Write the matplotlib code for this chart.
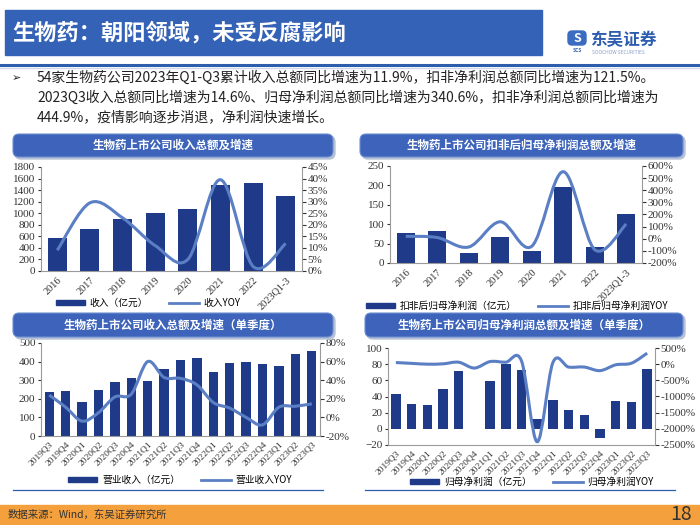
import matplotlib.pyplot as plt
from matplotlib.patches import FancyBboxPatch, Rectangle, PathPatch, Patch
from matplotlib.path import Path
from matplotlib.lines import Line2D
from matplotlib.ticker import FuncFormatter, MultipleLocator

plt.rcParams['font.family'] = ['Noto Sans CJK SC', 'DejaVu Sans']

# ---- data ----
years = ['2016', '2017', '2018', '2019', '2020', '2021', '2022', '2023Q1-3']
rev_year = [570, 730, 900, 1000, 1070, 1490, 1530, 1290]            # 亿元
rev_year_yoy = [9, 29.5, 23, 11, 5, 39.5, 2, 11.9]                   # %
np_year = [78, 83, 27, 68, 30, 195, 40, 125]                         # 亿元
np_year_yoy = [20, 10, -68, 140, -62, 553, -90, 121.5]               # %

quarters = ['2019Q3', '2019Q4', '2020Q1', '2020Q2', '2020Q3', '2020Q4',
            '2021Q1', '2021Q2', '2021Q3', '2021Q4', '2022Q1', '2022Q2',
            '2022Q3', '2022Q4', '2023Q1', '2023Q2', '2023Q3']
rev_q = [235, 240, 185, 248, 288, 310, 298, 358, 408, 418, 345, 395, 400, 388, 375, 442, 458]
rev_q_yoy = [24, 11, -4, 5, 22, 25, 60, 43, 42, 35, 16, 10, 0, -8, 11, 12, 14.6]
np_q = [43, 31, 30, 49, 72, 0, 59, 80, 73, 12, 36, 23, 17, -11, 34, 33, 74]
np_q_yoy = [50, 25, 0, 10, 60, -120, 80, 60, 100, -2400, 50, -90, -90, -200, -20, 30, 340.6]

bullets = [
    '54家生物药公司2023年Q1-Q3累计收入总额同比增速为11.9%，扣非净利润总额同比增速为121.5%。',
    '2023Q3收入总额同比增速为14.6%、归母净利润总额同比增速为340.6%，扣非净利润总额同比增速为',
    '444.9%，疫情影响逐步消退，净利润快速增长。',
]

W, H = 700, 525
BAR = '#1f3a88'
LINE = '#5b7fc4'
HEAD = '#3462b6'
TICKFONT = ['Liberation Serif', 'DejaVu Serif']

fig = plt.figure(figsize=(7, 5.25), dpi=100)

# background layer in pixel coordinates
bg = fig.add_axes([0, 0, 1, 1], zorder=-5)
bg.set_xlim(0, W)
bg.set_ylim(H, 0)
bg.axis('off')

# foreground layer for the panel headers
fg = fig.add_axes([0, 0, 1, 1], zorder=10)
fg.set_xlim(0, W)
fg.set_ylim(H, 0)
fg.axis('off')
fg.patch.set_visible(False)

# slide title bar
bg.add_patch(Rectangle((5, 10), 537, 45, color=HEAD))
bg.text(12, 33, '生物药：朝阳领域，未受反腐影响', color='white', fontsize=16,
        fontweight='bold', va='center')
bg.plot([0, W], [65, 65], color='#2e5dae', lw=2.2)
bg.plot([0, W], [67.5, 67.5], color='#cfd8e8', lw=1)

# logo
bg.add_patch(FancyBboxPatch((568, 31), 18, 14, boxstyle='round,pad=0,rounding_size=4',
                            color='#3a6cc0'))
bg.text(577, 38, 'S', color='white', fontsize=9, fontweight='bold', style='italic',
        ha='center', va='center')
bg.text(577, 50, 'SCS', color='#2e5dae', fontsize=3.5, ha='center', va='center', fontweight='bold')
bg.text(590, 40, '东吴证券', color='#2e5dae', fontsize=12, fontweight='bold', va='center')
bg.text(592, 52, 'SOOCHOW SECURITIES', color='#8aa0c8', fontsize=3.5, va='center')

# bullet text
bg.text(12, 78, '➢', fontsize=8, va='center', color='#222', family=['DejaVu Sans'])
for i, s in enumerate(bullets):
    bg.text(37, 78 + i * 19.5, s, fontsize=10, va='center', color='#222')

# footer
bg.add_patch(Rectangle((0, 505), W, 20, color='#f4a03c'))
bg.text(8, 515, '数据来源：Wind，东吴证券研究所', fontsize=7.5, va='center', color='#333')
bg.text(692, 514, '18', fontsize=14, va='center', ha='right', color='#333')

# separator lines under the lower panels
bg.plot([13, 323], [490, 490], color='#2e5dae', lw=0.9)
bg.plot([365, 675], [490, 490], color='#2e5dae', lw=0.9)


def header(x0, x1, y0, y1, title):
    fg.add_patch(FancyBboxPatch((x0 + 2, y0 + 2), x1 - x0, y1 - y0,
                                boxstyle='round,pad=0,rounding_size=6', color='#b8c2d6'))
    fg.add_patch(FancyBboxPatch((x0, y0), x1 - x0, y1 - y0,
                                boxstyle='round,pad=0,rounding_size=6',
                                facecolor='#3d64ba', edgecolor='#6f8fd0', lw=0.8))
    fg.text((x0 + x1) / 2, (y0 + y1) / 2, title, color='white', fontsize=8.3,
            fontweight='bold', ha='center', va='center')


def smooth_line(ax, y, color):
    # Excel-style smoothed line through the data points
    n = len(y)
    x = list(range(n))
    verts = [(x[0], y[0])]
    codes = [Path.MOVETO]
    for i in range(n - 1):
        xa, ya = (x[i - 1], y[i - 1]) if i > 0 else (x[i], y[i])
        xb, yb = (x[i + 2], y[i + 2]) if i + 2 < n else (x[i + 1], y[i + 1])
        c1 = (x[i] + (x[i + 1] - xa) / 6, y[i] + (y[i + 1] - ya) / 6)
        c2 = (x[i + 1] - (xb - x[i]) / 6, y[i + 1] - (yb - y[i]) / 6)
        verts += [c1, c2, (x[i + 1], y[i + 1])]
        codes += [Path.CURVE4] * 3
    ax.add_patch(PathPatch(Path(verts, codes), fill=False, edgecolor=color, lw=2.2))


def panel(box, cats, bars, yoy, ylim, ystep, y2lim, y2step, width, label_size):
    l, t, r, b = box
    ax = fig.add_axes([l / W, 1 - b / H, (r - l) / W, (b - t) / H])
    ax.bar(range(len(cats)), bars, width=width, color=BAR, zorder=2)
    ax.set_xlim(-0.5, len(cats) - 0.5)
    ax.set_ylim(*ylim)
    ax.yaxis.set_major_locator(MultipleLocator(ystep))
    ax.set_xticks(range(len(cats)))
    ax.set_xticklabels(cats, rotation=45, ha='right', rotation_mode='anchor',
                       fontsize=label_size, family=TICKFONT, color='#333')
    ax.tick_params(axis='x', length=0, pad=3)
    ax.tick_params(axis='y', length=2, labelsize=8, colors='#333', pad=2)
    for lab in ax.get_yticklabels():
        lab.set_family(TICKFONT)
    ax.spines['top'].set_visible(False)
    ax.spines['right'].set_visible(False)
    for s in ('left', 'bottom'):
        ax.spines[s].set_color('#9a9a9a')
        ax.spines[s].set_linewidth(0.8)
    ax.patch.set_visible(False)

    ax2 = ax.twinx()
    smooth_line(ax2, yoy, LINE)
    ax2.set_ylim(*y2lim)
    ax2.yaxis.set_major_locator(MultipleLocator(y2step))
    ax2.yaxis.set_major_formatter(FuncFormatter(lambda v, p: f'{v:.0f}%'))
    ax2.tick_params(axis='y', length=3, labelsize=8, colors='#333', pad=1)
    for lab in ax2.get_yticklabels():
        lab.set_family(TICKFONT)
    for s in ('top', 'left', 'bottom'):
        ax2.spines[s].set_visible(False)
    ax2.spines['right'].set_color('#9a9a9a')
    ax2.spines['right'].set_linewidth(0.8)
    return ax, ax2


def legend(cx, cy, bar_label, line_label):
    handles = [Patch(color=BAR), Line2D([], [], color=LINE, lw=2)]
    fig.legend(handles, [bar_label, line_label], loc='center', ncol=2, frameon=False,
               bbox_to_anchor=(cx / W, 1 - cy / H), fontsize=7, handlelength=3,
               handleheight=0.5, columnspacing=2.2, handletextpad=0.5)


# top-left: yearly revenue
panel((41, 167, 302, 271), years, rev_year, rev_year_yoy,
      (0, 1800), 200, (0, 45), 5, 0.58, 7.5)
header(13, 333, 134, 157, '生物药上市公司收入总额及增速')
legend(148, 303, '收入（亿元）', '收入YOY')

# top-right: yearly non-GAAP net profit
panel((390, 166, 642, 263), years, np_year, np_year_yoy,
      (0, 250), 50, (-200, 600), 100, 0.58, 7.5)
header(360, 683, 134, 157, '生物药上市公司扣非后归母净利润总额及增速')
legend(517, 306, '扣非后归母净利润（亿元）', '扣非后归母净利润YOY')

# bottom-left: quarterly revenue
panel((41, 343, 320, 436), quarters, rev_q, rev_q_yoy,
      (0, 500), 100, (-20, 80), 20, 0.57, 6.8)
header(13, 333, 313, 337, '生物药上市公司收入总额及增速（单季度）')
legend(180, 480, '营业收入（亿元）', '营业收入YOY')

# bottom-right: quarterly net profit
panel((388, 348, 655, 445), quarters, np_q, np_q_yoy,
      (-20, 100), 20, (-2500, 500), 500, 0.6, 6.8)
header(365, 683, 313, 337, '生物药上市公司归母净利润总额及增速（单季度）')
legend(532, 482, '归母净利润（亿元）', '归母净利润YOY')

fig.savefig('out.png', dpi=100)
